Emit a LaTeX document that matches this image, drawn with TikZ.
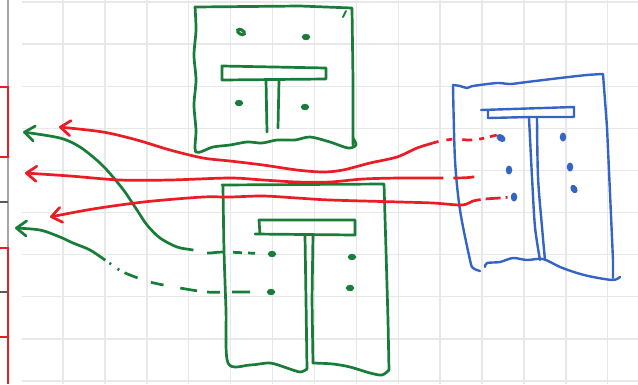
\documentclass[tikz,border=0pt]{standalone}
\usetikzlibrary{arrows.meta,shapes.geometric}
\definecolor{inkgreen}{RGB}{24,125,56}
\definecolor{inkred}{RGB}{236,28,36}
\definecolor{inkblue}{RGB}{52,100,196}
\definecolor{gridgray}{RGB}{232,232,232}
\definecolor{paneline}{RGB}{165,165,165}
\definecolor{panedark}{RGB}{90,90,90}

\begin{document}
\begin{tikzpicture}[x=1pt, y=-1pt,
  gridline/.style={draw=gridgray, line width=1.4pt},
  greenink/.style={draw=inkgreen, line width=2.7pt, line cap=round, line join=round},
  blueink/.style={draw=inkblue, line width=2.4pt, line cap=round, line join=round},
  ringdot/.style={ellipse, draw=inkgreen, line width=3pt, inner sep=0pt, minimum width=5pt, minimum height=3.2pt},
  bluedot/.style={ellipse, fill=inkblue, inner sep=0pt, minimum width=6.5pt, minimum height=9pt},
  redarrow/.style={draw=inkred, line width=2.7pt, -{Straight Barb[round,length=10pt,width=15pt]}},
  greenarrow/.style={draw=inkgreen, line width=2.7pt, -{Straight Barb[round,length=10pt,width=15pt]}}
]
\fill[white] (0,0) rectangle (638,384);
\useasboundingbox (0,0) rectangle (638,384);

\foreach \k in {0,...,9} \draw[gridline] (22,{2+42.1*\k}) -- (638,{2+42.1*\k});
\foreach \k in {0,...,13} \draw[gridline] ({63+41.9*\k},0) -- ({63+41.9*\k},384);

\draw[paneline, line width=1.4pt] (8,0) -- (8,384);
\draw[inkred, line width=2pt] (0,87) -- (7.5,87) -- (7.5,157) -- (0,157);
\draw[inkred, line width=2pt] (0,248) -- (7.5,248) -- (7.5,384);
\draw[inkred, line width=2pt] (0,337) -- (7.5,337);
\draw[panedark, line width=1.4pt] (0,202) -- (8,202);
\draw[panedark, line width=1.4pt] (0,292) -- (8,292);

\draw[greenink] (195,7) -- (300,6) -- (352,8) -- (353,80) -- (353,145);
\draw[greenink] plot[smooth] coordinates {(195,7) (196,30) (194,55) (196,80) (194,105) (196,130) (196,152) (213,147) (230,145) (247,142) (262,143) (277,140) (295,140) (310,137) (330,142) (348,148) (356,145) (353,138)};
\draw[greenink, line width=2pt] (343,17) -- (346,11);
\draw[greenink] (222,66) -- (326,68) -- (326,79) -- (222,80) -- cycle;
\draw[greenink] (266,80) -- (267,132);
\draw[greenink] (279,80) -- (278,128);
\node[ringdot, minimum width=7.5pt, minimum height=4.5pt, rotate=-30] (t1) at (241,32) {};
\node[ringdot] (t2) at (306,37) {};
\node[ringdot] (t3) at (239,103) {};
\node[ringdot] (t4) at (305,107) {};

\draw[greenink] (222,185) -- (384,184) -- (386,250) -- (388,320) -- (389,370);
\draw[greenink] plot[smooth] coordinates {(223,186) (224,250) (226,310) (228,363) (250,365) (270,363) (287,368) (300,372) (307,369)};
\draw[greenink] plot[smooth] coordinates {(313,363) (333,364) (350,367) (370,373) (382,375) (389,370)};
\draw[greenink] (305,235) -- (306,300) -- (307,369);
\draw[greenink] (313,235) -- (312,300) -- (313,363);
\draw[greenink] (255,234) -- (355,235) -- (355,220) -- (259,220) -- (260,234);
\node[ringdot] (gd1) at (272,254) {};
\node[ringdot] (gd3) at (352,257) {};
\node[ringdot] (gd2) at (271,292) {};
\node[ringdot] (gd4) at (350,288) {};

\draw[blueink] plot[smooth] coordinates {(453,85) (460,86) (467,88) (473,86) (497,83) (510,84) (527,82) (560,78) (587,75) (603,74)};
\draw[blueink] (603,74) -- (607,127) -- (610,193) -- (613,260) -- (613,278);
\draw[blueink] plot[smooth] coordinates {(453,85) (455,160) (460,210) (470,260) (473,268) (480,271)};
\draw[blueink] plot[smooth] coordinates {(485,267) (487,263) (500,262) (513,258) (527,260) (543,259) (560,267) (577,273) (593,277) (613,280) (620,277)};
\draw[blueink] (481,110) -- (574,107) -- (574,117) -- (530,117) -- (488,118) -- (488,110);
\draw[blueink] plot[smooth] coordinates {(529,118) (532,177) (535,227) (540,260)};
\draw[blueink] plot[smooth] coordinates {(537,118) (538,177) (542,227) (545,260)};
\node[bluedot, minimum width=10pt, minimum height=7pt, rotate=-35] (rd1) at (501,138) {};
\node[bluedot] (rb1) at (563,137) {};
\node[bluedot] (rd2) at (509,170) {};
\node[bluedot] (rb2) at (570,167) {};
\node[bluedot] (rd3) at (514,197) {};
\node[bluedot, rotate=30] (rb3) at (574,189) {};

\coordinate (gt1) at (23,132);
\coordinate (gt2) at (15,228);
\coordinate (rt1) at (59,127);
\coordinate (rt2) at (25,173);
\coordinate (rt3) at (50,217);

\draw[greenarrow, dash pattern=on 0pt off 13pt on 7pt off 6pt on 9pt off 10pt on 16pt off 14pt on 1000pt] plot[smooth] coordinates {(gd1.west) (248,253) (223,252) (207,253) (193,250) (177,247) (160,238) (147,225) (137,210) (125,192) (113,177) (100,163) (80,147) (60,138) (gt1)};
\draw[greenarrow, dash pattern=on 0pt off 17pt on 18pt off 12pt on 13pt off 10pt on 17pt off 17pt on 13pt off 14pt on 14pt off 6pt on 2pt off 8pt on 2pt off 5pt on 1000pt] plot[smooth] coordinates {(gd2.west) (232,292) (207,292) (180,288) (150,282) (123,272) (108,262) (90,250) (73,243) (60,237) (40,230) (gt2)};

\draw[redarrow, dash pattern=on 7pt off 6pt on 5pt off 7pt on 10pt off 10pt on 6pt off 8pt on 1000pt] plot[smooth] coordinates {(rd1.west) (480,139) (468,140) (455,139) (440,141) (433,143) (417,148) (397,157) (370,163) (343,170) (323,172) (297,170) (263,165) (230,161) (203,158) (170,150) (137,140) (103,132) (rt1)};
\draw[redarrow, dash pattern=on 0pt off 32pt on 21pt off 10pt on 1000pt] plot[smooth] coordinates {(rd2.west) (473,177) (452,178) (440,178) (400,178) (363,179) (330,182) (297,182) (263,180) (230,178) (170,180) (120,180) (70,176) (rt2)};
\draw[redarrow, dash pattern=on 0pt off 3pt on 2pt off 5pt on 15pt off 5pt on 1000pt] plot[smooth] coordinates {(rd3.west) (500,198) (485,199) (473,201) (462,205) (433,203) (400,202) (330,200) (297,198) (263,196) (230,197) (203,197) (153,201) (120,205) (87,210) (rt3)};
\end{tikzpicture}
\end{document}
